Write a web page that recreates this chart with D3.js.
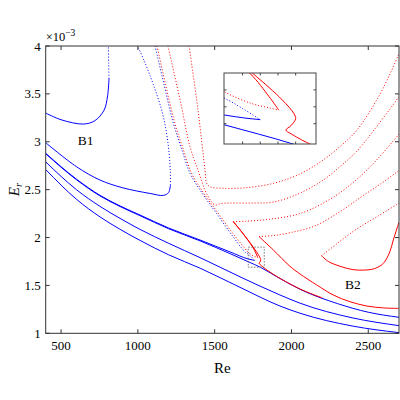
<!DOCTYPE html>
<html><head><meta charset="utf-8">
<script src="https://cdn.jsdelivr.net/npm/d3@7"></script>
<style>body{margin:0;background:#fff}svg{font-family:"Liberation Serif","DejaVu Serif",serif}</style>
</head><body><svg id="c" width="400" height="400"></svg>
<script>
// ---- data: [Re, Er*1e3] ----
const xTicks=[500,1000,1500,2000,2500];
const yTicks=[1,1.5,2,2.5,3,3.5,4];
const blueSolid={
 b1Upper:[[400,3.30],[500,3.23],[645,3.185],[720,3.22],[780,3.33],[803,3.48],[812,3.66]],
 b1Lower:[[400,2.99],[600,2.74],[754,2.60],[900,2.52],[1080,2.46],[1167,2.44],[1200,2.47],[1212,2.55]],
 aUpper:[[400,2.88],[600,2.61],[754,2.44],[884,2.33],[1014,2.235],[1200,2.10],[1405,1.974],[1600,1.85],[1719,1.776],[1745,1.766],[1760,1.762]],
 aLower:[[400,2.875],[600,2.604],[754,2.434],[884,2.324],[1014,2.228],[1200,2.092],[1405,1.965],[1600,1.832],[1719,1.747],[1797,1.69],[1900,1.595],[2055,1.46],[2300,1.31],[2500,1.22],[2700,1.167]],
 b:[[400,2.79],[600,2.50],[754,2.325],[884,2.20],[1014,2.085],[1200,1.94],[1405,1.79],[1665,1.59],[1925,1.40],[2055,1.315],[2400,1.16],[2700,1.08]],
 c:[[400,2.71],[600,2.40],[754,2.215],[884,2.086],[1014,1.97],[1200,1.82],[1405,1.68],[1665,1.48],[1925,1.285],[2055,1.21],[2400,1.075],[2700,1.007]]
};
const blueDotted={
 b1Top:[[812,3.66],[810,3.82],[808,4.0]],
 b1Loop:[[1212,2.55],[1211,2.7],[1195,3.0],[1160,3.3],[1100,3.6],[1040,3.85],[998,4.0]],
 diag:[[1112,4.0],[1170,3.6],[1230,3.2],[1290,2.9],[1340,2.67],[1420,2.46],[1513,2.25],[1610,2.03],[1700,1.845],[1719,1.826],[1740,1.795],[1760,1.762]]
};
const redSolid={
 r1a:[[1621,2.168],[1680,2.05],[1748,1.90],[1770,1.83],[1781,1.79]],
 r1b:[[1621,2.165],[1683,2.045],[1751,1.90],[1785,1.82],[1798,1.78],[1800,1.765],[1795,1.745],[1789,1.731],[1795,1.72],[1816,1.69],[1900,1.598],[2055,1.463],[2200,1.37]],
 r2:[[1789,2.01],[1882,1.87],[1990,1.70],[2055,1.62],[2164,1.505],[2272,1.40],[2381,1.33],[2490,1.285],[2600,1.265],[2700,1.26]],
 b2Loop:[[2196,1.81],[2240,1.75],[2316,1.70],[2400,1.665],[2468,1.66],[2540,1.675],[2598,1.73],[2640,1.85],[2663,1.975],[2700,2.16]]
};
const redDotted={
 diag:[[1125,4.0],[1180,3.6],[1240,3.2],[1300,2.9],[1350,2.67],[1430,2.46],[1520,2.26],[1620,2.04],[1700,1.88],[1719,1.845],[1750,1.81],[1770,1.797],[1781,1.79]],
 u1:[[1333,4.0],[1390,3.35],[1437,2.705],[1448,2.566],[1470,2.53],[1556,2.514],[1700,2.52],[1882,2.566],[2050,2.66],[2207,2.81],[2330,2.97],[2425,3.12],[2560,3.45],[2642,3.71],[2700,3.92]],
 u2:[[1196,4.0],[1280,3.4],[1339,2.95],[1391,2.705],[1450,2.45],[1502,2.34],[1540,2.355],[1600,2.36],[1750,2.36],[1882,2.37],[2050,2.46],[2207,2.6],[2330,2.76],[2425,2.9],[2560,3.17],[2700,3.47]],
 u3:[[1621,2.165],[1700,2.17],[1850,2.19],[2055,2.25],[2251,2.40],[2420,2.60],[2560,2.82],[2700,3.08]],
 u4:[[1789,2.01],[1880,2.02],[1990,2.05],[2150,2.12],[2316,2.27],[2450,2.42],[2580,2.56],[2700,2.70]],
 u5:[[2196,1.81],[2300,1.94],[2425,2.09],[2560,2.22],[2700,2.36]]
};
const inset={re:[1719,1823],er:[1.69,1.90]};
// ---- drawing ----
const svg=d3.select("#c");
const L=45.7,R=399,T=46,B=333.3;
const x=d3.scaleLinear().domain([400,2700]).range([L,R]);
const y=d3.scaleLinear().domain([1,4]).range([B,T]);
svg.append("clipPath").attr("id","cm").append("rect").attr("x",L).attr("y",T).attr("width",R-L).attr("height",B-T);
const mono=new Set(["b","c","aLower","aUpper"]);
function draw(g,xs,ys,sw){
  const ln=d3.line().x(d=>xs(d[0])).y(d=>ys(d[1])).curve(d3.curveCatmullRom.alpha(0.5));
  const lm=d3.line().x(d=>xs(d[0])).y(d=>ys(d[1])).curve(d3.curveMonotoneX);
  const add=(set,col,dot)=>Object.entries(set).forEach(([k,a])=>g.append("path").attr("d",(mono.has(k)&&!dot?lm:ln)(a)).attr("fill","none")
    .attr("stroke",col).attr("stroke-width",sw).attr("stroke-dasharray",dot?"1,2":null));
  add(redDotted,"#ff0000",true);add(blueDotted,"#0000ff",true);
  add(blueSolid,"#0000ff",false);add(redSolid,"#ff0000",false);
}
const gm=svg.append("g").attr("clip-path","url(#cm)");
draw(gm,x,y,1);
gm.append("rect").attr("x",x(inset.re[0])).attr("y",y(inset.er[1])).attr("width",x(inset.re[1])-x(inset.re[0]))
 .attr("height",y(inset.er[0])-y(inset.er[1])).attr("fill","none").attr("stroke","#555").attr("stroke-dasharray","1.5,1.5").attr("stroke-width",0.8);
const ax=svg.append("g").attr("stroke","#333").attr("fill","none");
ax.append("rect").attr("x",L).attr("y",T).attr("width",R-L).attr("height",B-T).attr("stroke-width",1);
xTicks.forEach(t=>{ax.append("line").attr("x1",x(t)).attr("x2",x(t)).attr("y1",B).attr("y2",B-4);
 ax.append("line").attr("x1",x(t)).attr("x2",x(t)).attr("y1",T).attr("y2",T+4);
 svg.append("text").attr("x",x(t)).attr("y",B+17).attr("text-anchor","middle").attr("font-size",13).text(t);});
yTicks.forEach(t=>{ax.append("line").attr("x1",L).attr("x2",L+4).attr("y1",y(t)).attr("y2",y(t));
 ax.append("line").attr("x1",R).attr("x2",R-4).attr("y1",y(t)).attr("y2",y(t));
 svg.append("text").attr("x",L-5).attr("y",y(t)+4.5).attr("text-anchor","end").attr("font-size",13).text(t);});
svg.append("text").attr("x",L).attr("y",T-5).attr("font-size",12.5).html('×10<tspan dy="-5" font-size="9.5">−3</tspan>');
svg.append("text").attr("x",x(1550)).attr("y",373).attr("text-anchor","middle").attr("font-size",15).text("Re");
svg.append("text").attr("transform","translate(19,"+y(2.5)+") rotate(-90)").attr("text-anchor","middle").attr("font-size",15)
 .attr("font-style","italic").html('E<tspan dy="3" font-size="10.5">r</tspan>');
svg.append("text").attr("x",x(660)).attr("y",y(2.97)).attr("text-anchor","middle").attr("font-size",13.5).text("B1");
svg.append("text").attr("x",x(2400)).attr("y",y(1.46)).attr("text-anchor","middle").attr("font-size",13.5).text("B2");
const IL=224,IR=316,IT=73,IB=144;
const xi=d3.scaleLinear().domain(inset.re).range([IL,IR]);
const yi=d3.scaleLinear().domain(inset.er).range([IB,IT]);
svg.append("rect").attr("x",IL).attr("y",IT).attr("width",IR-IL).attr("height",IB-IT).attr("fill","#fff");
svg.append("clipPath").attr("id","ci").append("rect").attr("x",IL).attr("y",IT).attr("width",IR-IL).attr("height",IB-IT);
const gi=svg.append("g").attr("clip-path","url(#ci)");
draw(gi,xi,yi,1);
const ai=svg.append("g").attr("stroke","#444").attr("fill","none");
[1740,1760,1780,1800].forEach(t=>{ai.append("line").attr("x1",xi(t)).attr("x2",xi(t)).attr("y1",IB).attr("y2",IB-2.5);
 ai.append("line").attr("x1",xi(t)).attr("x2",xi(t)).attr("y1",IT).attr("y2",IT+2.5);});
[1.75,1.8,1.85].forEach(t=>{ai.append("line").attr("x1",IL).attr("x2",IL+2.5).attr("y1",yi(t)).attr("y2",yi(t));
 ai.append("line").attr("x1",IR).attr("x2",IR-2.5).attr("y1",yi(t)).attr("y2",yi(t));});
ai.append("rect").attr("x",IL).attr("y",IT).attr("width",IR-IL).attr("height",IB-IT).attr("stroke-width",1);
</script></body></html>
